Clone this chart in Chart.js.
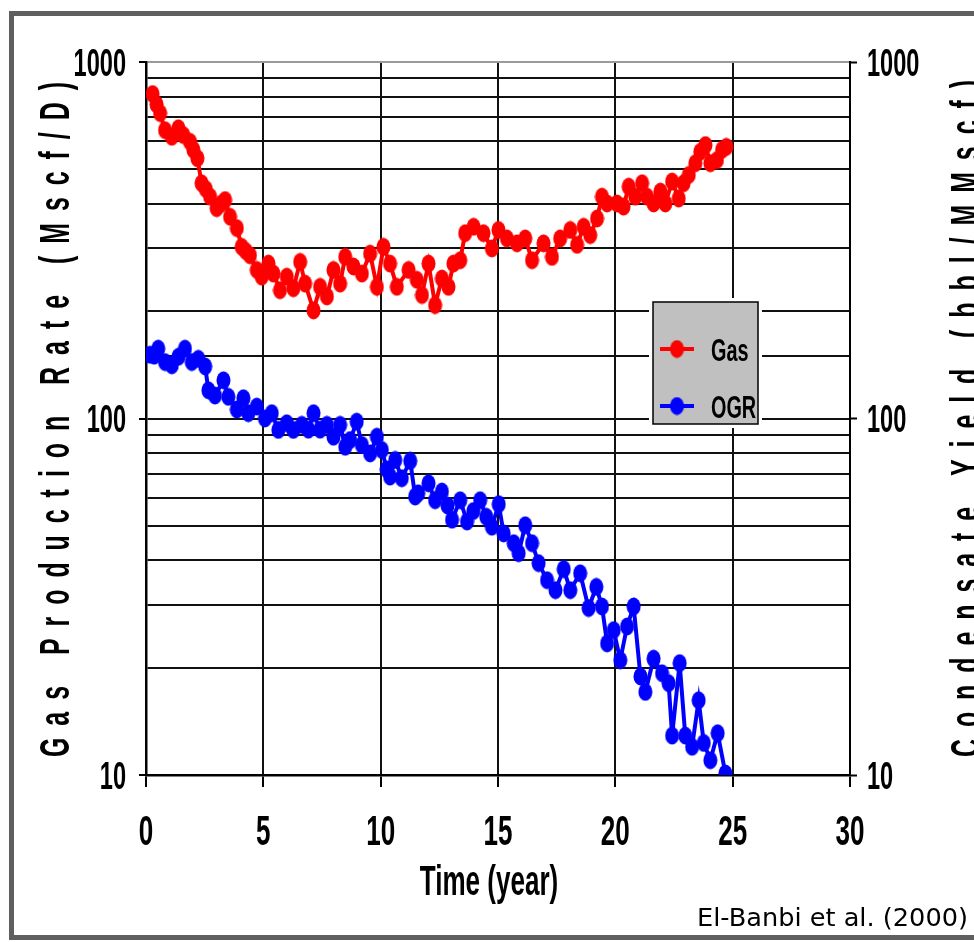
<!DOCTYPE html>
<html>
<head>
<meta charset="utf-8">
<script src="https://cdn.jsdelivr.net/npm/chart.js@4.4.0/dist/chart.umd.min.js"></script>
<style>
html, body { margin: 0; padding: 0; background: #fff; overflow: hidden; }
</style>
</head>
<body>
<canvas id="chart" width="974" height="942"></canvas>
<script>
// values
const gasTime = [0.28, 0.45, 0.6, 0.81, 1.1, 1.38, 1.59, 1.88, 2.02, 2.19, 2.37, 2.55, 2.73, 3.01, 3.2, 3.37, 3.58, 3.87,
  4.08, 4.25, 4.43, 4.72, 4.93, 5.22, 5.43, 5.71, 6.0, 6.28, 6.57, 6.78, 7.14, 7.42, 7.71, 7.99, 8.27, 8.49, 8.84,
  9.2, 9.55, 9.84, 10.12, 10.4, 10.69, 11.19, 11.54, 11.76, 12.04, 12.32, 12.61, 12.89, 13.1, 13.39, 13.6, 13.96,
  14.38, 14.74, 15.02, 15.38, 15.81, 16.16, 16.45, 16.94, 17.3, 17.65, 18.08, 18.37, 18.65, 18.93, 19.22, 19.43,
  19.65, 20.07, 20.35, 20.57, 20.85, 21.14, 21.35, 21.63, 21.92, 22.13, 22.42, 22.7, 22.91, 23.13, 23.41, 23.62,
  23.84, 24.05, 24.33, 24.55, 24.73];
const gasRate = [813, 760, 719, 644, 617, 652, 624, 597, 567, 537, 457, 440, 419, 389, 400, 410, 368, 342,
  303, 295, 287, 261, 250, 272, 255, 229, 250, 232, 275, 239, 201, 234, 220, 261, 239, 284, 267,
  255, 290, 234, 303, 272, 234, 261, 245, 222, 272, 208, 247, 234, 272, 278, 331, 345,
  331, 300, 338, 320, 310, 320, 278, 310, 284, 320, 338, 307, 345, 327, 364, 419,
  401, 401, 393, 447, 419, 457, 419, 401, 433, 401, 462, 414, 457, 482, 520, 560,
  585, 520, 531, 567, 578];

const ogrTime = [0.17, 0.35, 0.52, 0.81, 1.1, 1.38, 1.66, 1.95, 2.23, 2.52, 2.66, 2.94, 3.3, 3.51, 3.87, 4.15, 4.36,
  4.72, 5.07, 5.36, 5.64, 6.0, 6.28, 6.64, 6.92, 7.14, 7.42, 7.71, 7.99, 8.27, 8.49, 8.7, 8.98, 9.2, 9.55, 9.84,
  10.05, 10.26, 10.4, 10.62, 10.9, 11.26, 11.47, 11.6, 12.04, 12.32, 12.61, 12.85, 13.04, 13.39, 13.68, 13.95,
  14.24, 14.5, 14.74, 15.03, 15.24, 15.67, 15.88, 16.16, 16.45, 16.73, 17.09, 17.45, 17.8, 18.08, 18.5, 18.86,
  19.19, 19.43, 19.65, 19.93, 20.21, 20.5, 20.78, 21.07, 21.28, 21.63, 21.99, 22.27, 22.42, 22.74, 22.98, 23.27,
  23.55, 23.77, 24.05, 24.36, 24.69];
const ogrYield = [151, 150, 157, 144, 141, 149, 157, 144, 147, 140, 120, 116, 128, 115, 106, 114, 103.5,
  108, 100, 103.5, 92.9, 97, 92.9, 96, 93, 103.5, 93, 96, 88.9, 96, 83.3, 87, 98, 84.3, 79.8, 88.9,
  81.6, 72, 68.7, 76.5, 68, 76, 60.4, 61.7, 65.8, 59, 62.4, 57, 52, 59, 51.4, 55,
  59, 53, 49.7, 57.5, 47.6, 44.7, 41.9, 50.2, 44.7, 39.3, 35.2, 33, 37.8, 33, 36.8, 29.4,
  33.7, 29.7, 23.4, 25.5, 21.0, 26.1, 29.7, 18.9, 17.1, 21.2, 19.3, 18.1, 12.9, 20.6, 12.9, 12.0,
  16.2, 12.3, 11.0, 13.1, 10.1];

const seriesNames = ['Gas', 'OGR'];
const xTickLabels = [0, 5, 10, 15, 20, 25, 30];
const yTickLabels = [10, 100, 1000];
const xTitle = 'Time (year)';
const yTitle = 'Gas Production Rate (Mscf/D)';
const y2Title = 'Condensate Yield (bbl/MMscf)';
const credit = 'El-Banbi et al. (2000)';

const FONT = '"Liberation Sans", Arial, sans-serif';
const K = 0.62; // horizontal squeeze of the original lettering

// marker: slightly tall blob like the original
function blob(color) {
  var c = document.createElement('canvas');
  c.width = 15; c.height = 19;
  var g = c.getContext('2d');
  g.fillStyle = color;
  g.beginPath();
  g.ellipse(7.5, 9.5, 7, 9, 0, 0, Math.PI * 2);
  g.fill();
  return c;
}

function isMajor(ctx) {
  if (!ctx.tick) return false;
  var l = Math.log10(ctx.tick.value);
  return Math.abs(l - Math.round(l)) < 1e-6;
}

// squeezed text, align = left/center/right, y = visual middle of caps
function squeezed(ctx, str, x, y, size, align, weight, k, family) {
  ctx.save();
  ctx.font = weight + ' ' + size + 'px ' + (family || FONT);
  ctx.textBaseline = 'alphabetic';
  ctx.textAlign = 'left';
  var w = ctx.measureText(str).width * k;
  var x0 = align === 'right' ? x - w : (align === 'center' ? x - w / 2 : x);
  ctx.translate(x0, y + size * 0.716 / 2);
  ctx.scale(k, 1);
  ctx.fillStyle = '#000';
  ctx.fillText(str, 0, 0);
  ctx.restore();
}

// vertical spaced-out title, reading bottom to top
function spreadUp(ctx, str, baseX, yStart, yEnd, size, k) {
  ctx.save();
  ctx.font = 'bold ' + size + 'px ' + FONT;
  ctx.textBaseline = 'alphabetic';
  ctx.textAlign = 'left';
  ctx.fillStyle = '#000';
  var chars = str.split('');
  var widths = chars.map(function (ch) { return ctx.measureText(ch).width * k; });
  var total = widths.reduce(function (a, b) { return a + b; }, 0);
  var len = yStart - yEnd;
  var gap = (len - total) / (chars.length - 1);
  ctx.translate(baseX, yStart);
  ctx.rotate(-Math.PI / 2);
  var pos = 0;
  chars.forEach(function (ch, i) {
    ctx.save();
    ctx.translate(pos, 0);
    ctx.scale(k, 1);
    ctx.fillText(ch, 0, 0);
    ctx.restore();
    pos += widths[i] + gap;
  });
  ctx.restore();
}

const decor = {
  id: 'decor',
  afterDraw(chart) {
    var ctx = chart.ctx;
    var sx = chart.scales.x, sy = chart.scales.y, sy2 = chart.scales.y2;

    // tick labels
    yTickLabels.forEach(function (v) {
      squeezed(ctx, String(v), 126, sy.getPixelForValue(v), 38, 'right', 'bold', K);
      squeezed(ctx, String(v), 867, sy2.getPixelForValue(v), 38, 'left', 'bold', K);
    });
    xTickLabels.forEach(function (v) {
      squeezed(ctx, String(v), sx.getPixelForValue(v), 830, 42, 'center', 'bold', K);
    });

    // axis titles
    squeezed(ctx, xTitle, 489, 880, 42, 'center', 'bold', K);
    spreadUp(ctx, yTitle, 69, 757, 82, 43, 0.58);
    spreadUp(ctx, y2Title, 980, 757, 80, 43, 0.58);

    // legend box
    var bx = 653, by = 302, bw = 105, bh = 122;
    ctx.save();
    ctx.fillStyle = '#fff';
    ctx.fillRect(bx - 4, by - 4, bw + 8, bh + 8);
    ctx.fillStyle = '#c0c0c0';
    ctx.fillRect(bx, by, bw, bh);
    ctx.strokeStyle = '#000';
    ctx.lineWidth = 1.5;
    ctx.strokeRect(bx, by, bw, bh);
    var rows = [349, 406];
    chart.data.datasets.forEach(function (ds, i) {
      var ly = rows[i];
      ctx.strokeStyle = ds.borderColor;
      ctx.lineWidth = 4;
      ctx.beginPath();
      ctx.moveTo(660, ly);
      ctx.lineTo(694, ly);
      ctx.stroke();
      ctx.drawImage(ds.pointStyle, 677 - 7.5, ly - 9.5);
      squeezed(ctx, ds.label, 711, ly + 1, 32, 'left', 'bold', K);
    });
    ctx.restore();

    // credit line
    var cf = '"DejaVu Sans", Verdana, sans-serif';
    ctx.save();
    ctx.font = '25px ' + cf;
    var cw = ctx.measureText(credit).width;
    ctx.restore();
    squeezed(ctx, credit, 697, 917, 25, 'left', 'normal', 271 / cw, cf);

    // outer frame
    ctx.save();
    ctx.strokeStyle = '#5f5f5f';
    ctx.lineWidth = 5;
    ctx.strokeRect(11.5, 13.5, 1000, 924);
    ctx.restore();
  }
};

new Chart(document.getElementById('chart'), {
  type: 'line',
  data: {
    datasets: [
      {
        label: seriesNames[0],
        data: gasTime.map(function (t, i) { return { x: t, y: gasRate[i] }; }),
        borderColor: '#ff0000',
        backgroundColor: '#ff0000',
        borderWidth: 4,
        pointStyle: blob('#ff0000'),
        pointRadius: 7,
        tension: 0,
        yAxisID: 'y'
      },
      {
        label: seriesNames[1],
        data: ogrTime.map(function (t, i) { return { x: t, y: ogrYield[i] }; }),
        borderColor: '#0000ff',
        backgroundColor: '#0000ff',
        borderWidth: 4,
        pointStyle: blob('#0000ff'),
        pointRadius: 7,
        tension: 0,
        yAxisID: 'y2'
      }
    ]
  },
  options: {
    responsive: false,
    animation: false,
    devicePixelRatio: 1,
    layout: { padding: { top: 62, left: 0, right: 0, bottom: 0 } },
    plugins: { legend: { display: false }, tooltip: { enabled: false } },
    scales: {
      x: {
        type: 'linear', min: 0, max: 30,
        ticks: { stepSize: 5, display: false },
        grid: { color: '#111', lineWidth: 2, tickLength: 12, tickColor: '#000', tickWidth: 2 },
        border: { color: '#000', width: 2.5 },
        afterFit: function (s) { s.height = 167; }
      },
      y: {
        type: 'logarithmic', position: 'left', min: 10, max: 1000,
        ticks: { display: false },
        grid: {
          color: function (c) { return c.tick && c.tick.value === 1000 ? '#9a9a9a' : '#111'; },
          lineWidth: 2, tickLength: 7, tickWidth: 2,
          tickColor: function (c) { return isMajor(c) ? '#000' : 'rgba(0,0,0,0)'; }
        },
        border: { color: '#000', width: 2.5 },
        afterFit: function (s) { s.width = 146; }
      },
      y2: {
        type: 'logarithmic', position: 'right', min: 10, max: 1000,
        ticks: { display: false },
        grid: {
          drawOnChartArea: false, tickLength: 7, tickWidth: 2,
          tickColor: function (c) { return isMajor(c) ? '#000' : 'rgba(0,0,0,0)'; }
        },
        border: { color: '#000', width: 2 },
        afterFit: function (s) { s.width = 124; }
      }
    }
  },
  plugins: [decor]
});
</script>
</body>
</html>
